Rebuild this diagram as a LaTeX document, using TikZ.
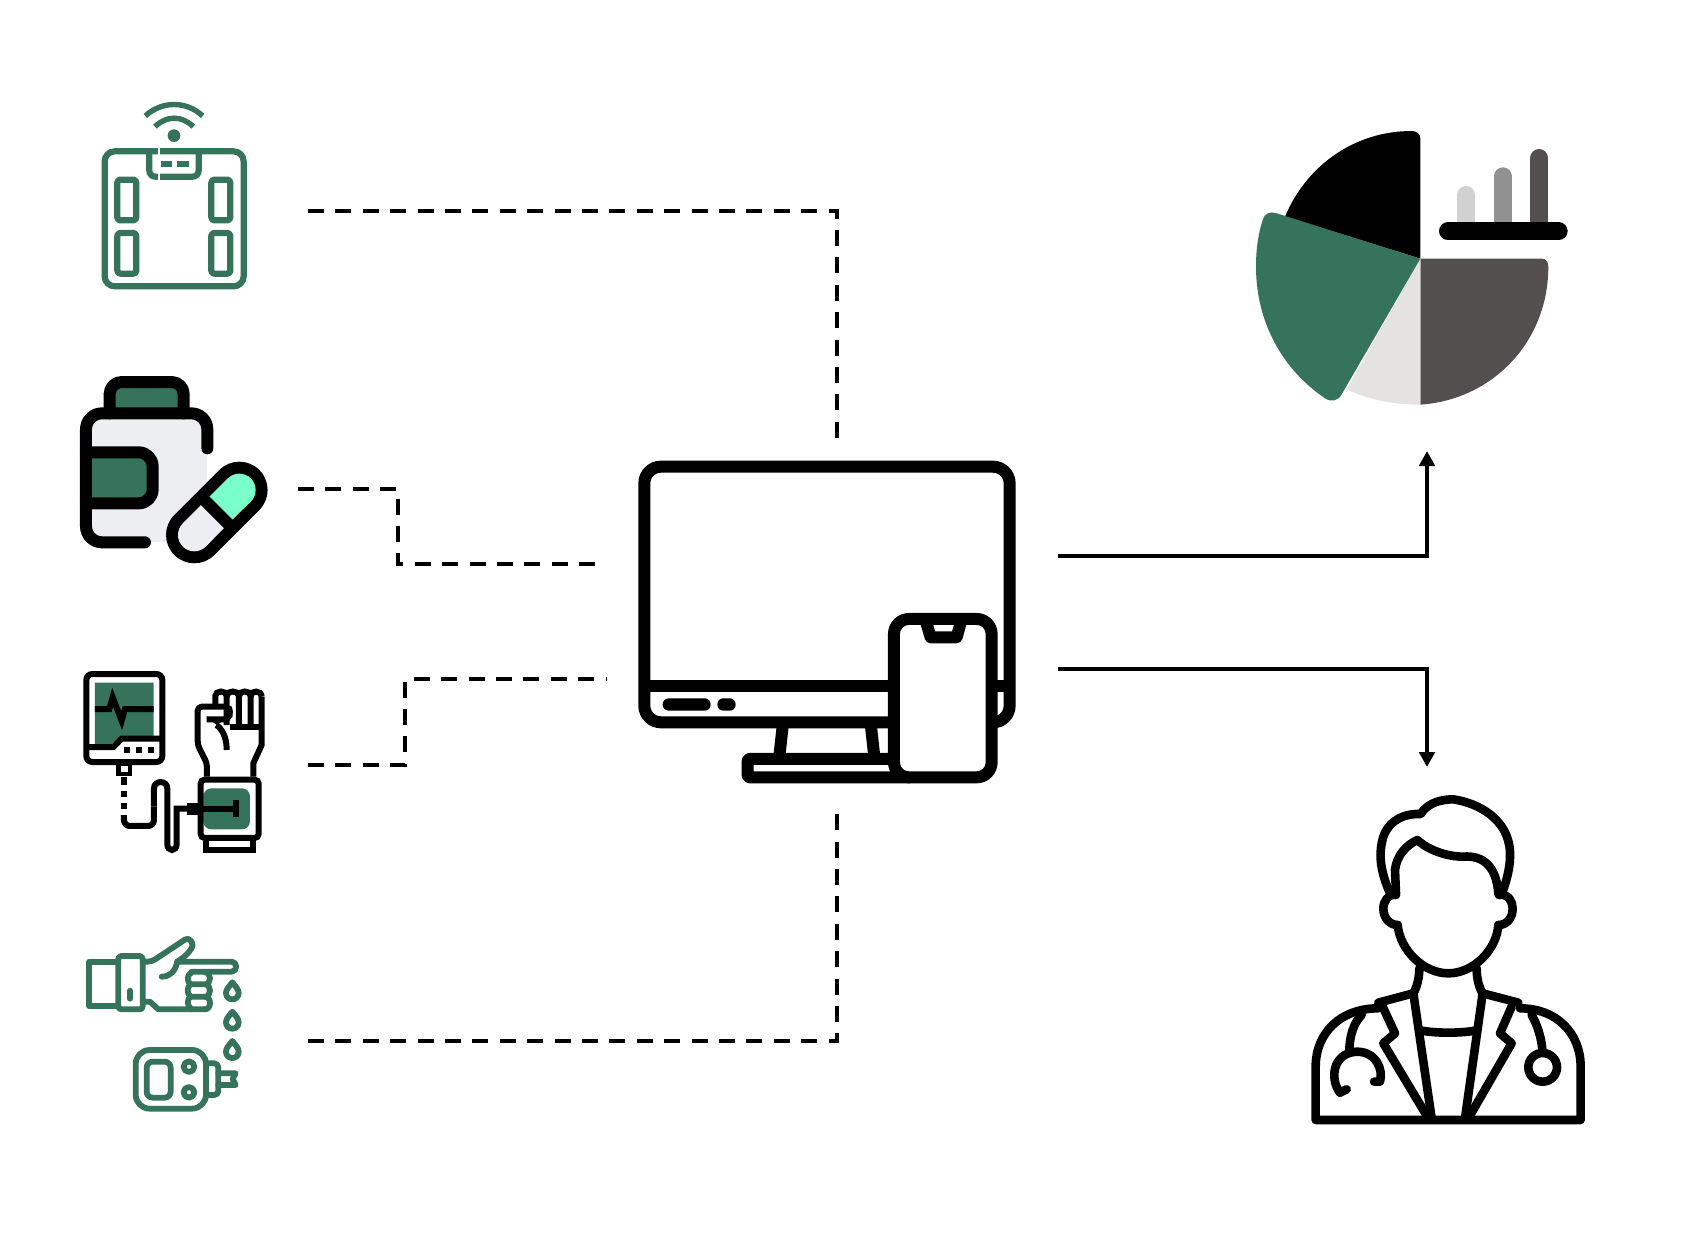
\documentclass[tikz,border=0pt]{standalone}
\usepackage{xcolor}
\usetikzlibrary{arrows.meta}
\definecolor{iconGreen}{HTML}{35735A}
\definecolor{pillGrey}{HTML}{ECEEF1}
\definecolor{pillMint}{HTML}{7AFFC9}
\definecolor{pieDark}{HTML}{524F4E}
\definecolor{pieLight}{HTML}{E4E3E2}
\tikzset{
  dataline/.style={line width=2pt,dash pattern=on 8pt off 5.7pt},
  outline/.style={line width=2pt,-{Triangle[length=7.5pt,width=7.7pt]}},
  greenthin/.style={draw=iconGreen,line width=3.1pt,line join=round},
  greenhand/.style={draw=iconGreen,line width=2.9pt,line join=round,line cap=round},
  pillline/.style={line width=6pt,line join=round,line cap=round},
  cuffline/.style={line width=3pt,line join=miter},
  pcline/.style={line width=6pt,line join=round},
  docline/.style={line width=4.3pt,line join=round,line cap=round},
}
\begin{document}
\begin{tikzpicture}[x=.5pt,y=-.5pt]
\useasboundingbox (0,0) rectangle (1690,1254);

% smart scale
\begin{scope}[shift={(60,80)},scale=.3333]
\draw[greenthin,rounded corners=5pt] (134,214) rectangle (551,619);
\draw[greenthin,rounded corners=3pt] (268,214) -- (268,290) -- (416,290) -- (416,214);
\draw[white,line width=1pt] (298,205) -- (298,300);
\fill[iconGreen] (302,243) rectangle (335,261);
\fill[iconGreen] (352,243) rectangle (388,261);
\foreach \xa in {172,454}
  \foreach \ya in {299,459}
    \draw[greenthin,rounded corners=1.5pt] (\xa,\ya) rectangle ++(57,122);
\fill[iconGreen] (342,167) circle (19);
\draw[greenthin,line width=2.7pt] (256,108) .. controls (305,62) and (380,62) .. (428,108);
\draw[greenthin,line width=2.7pt] (285,140) .. controls (320,106) and (365,106) .. (400,140);
\end{scope}

% pill bottle
\begin{scope}[shift={(60,360)},scale=.3333]
\fill[pillGrey] (85,170) rectangle (441,545);
\draw[pillline,fill=iconGreen,rounded corners=6pt] (149,160) -- (149,66) -- (371,66) -- (371,160);
\draw[pillline,fill=iconGreen,rounded corners=7pt] (78,277) -- (278,277) -- (278,430) -- (78,430);
\draw[pillline,rounded corners=8pt] (442,265) -- (442,160) -- (78,160) -- (78,547) -- (255,547);
\draw[line width=28.3pt,line cap=round] (403,525) -- (538,390);
\fill[pillGrey] (403,525) circle (49);
\draw[pillGrey,line width=16.3pt] (403,525) -- (470,457);
\fill[pillMint] (538,390) circle (49);
\draw[pillMint,line width=16.3pt] (538,390) -- (470,457);
\draw[line width=6pt] (433,420) -- (507,494);
\end{scope}

% blood pressure monitor
\begin{scope}[shift={(60,660)},scale=.3333]
\fill[iconGreen] (105,68) -- (281,68) -- (281,228) -- (185,228) -- (155,252) -- (105,252) -- cycle;
\draw[cuffline,rounded corners=3pt] (79,42) rectangle (307,306);
\draw[cuffline] (79,261) -- (160,261) -- (185,236) -- (307,236);
\foreach \xa in {192,228,263}
  \fill (\xa,262) rectangle ++(18,18);
\draw[cuffline] (105,147) -- (148,147) -- (158,112) -- (185,182) -- (195,147) -- (281,147);
\draw[line width=2.3pt] (175,312) rectangle (210,342);
\draw[cuffline] (192,350) -- (192,374);
\draw[cuffline] (192,394) -- (192,411);
\draw[cuffline] (192,430) -- (192,447);
\draw[cuffline,rounded corners=3pt] (192,465) -- (192,498) -- (282,498) -- (282,440);
\draw[cuffline] (282,440) -- (282,385) .. controls (282,360) and (322,360) .. (322,385) -- (322,552) .. controls (322,576) and (350,576) .. (350,552) -- (350,446) -- (388,446);
\draw[cuffline] (390,437) rectangle (420,456);
\fill[iconGreen,rounded corners=4pt] (430,385) -- (570,385) -- (570,508) -- (430,508) -- cycle;
\draw[cuffline,rounded corners=2pt] (422,359) rectangle (596,534);
\draw[cuffline] (420,446) -- (528,446);
\draw[cuffline] (528,420) -- (528,472);
\draw[cuffline] (438,543) -- (438,570) -- (578,570) -- (578,543);
\draw[cuffline,line join=round,rounded corners=2pt] (441,350) -- (441,310) -- (413,255) -- (413,140) -- (505,140);
\draw[cuffline,line join=round] (580,350) -- (580,310) -- (605,255) -- (605,110);
\draw[cuffline] (466,135) -- (466,108) .. controls (466,90) and (500,90) .. (500,108) -- (500,195);
\draw[cuffline] (500,108) .. controls (500,90) and (537,90) .. (537,108) -- (537,195);
\draw[cuffline] (537,108) .. controls (537,90) and (572,90) .. (572,108) -- (572,195);
\draw[cuffline] (572,108) .. controls (572,90) and (605,90) .. (605,110);
\draw[cuffline] (510,200) -- (605,200);
\draw[cuffline] (505,140) .. controls (515,160) and (510,178) .. (490,178) -- (440,178);
\fill (440,170) -- (500,175) -- (470,195) -- cycle;
\draw[cuffline] (470,195) .. controls (495,215) and (500,245) .. (500,270);
\end{scope}

% finger prick and glucose meter
\begin{scope}[shift={(70,920)},scale=.3333]
\draw[greenhand] (145,125) -- (57,125) -- (57,258) -- (145,258);
\draw[greenhand,rounded corners=1.5pt] (145,108) rectangle (218,268);
\draw[greenhand] (180,212) -- (180,236);
\draw[greenhand,rounded corners=2pt] (218,125) -- (245,125) -- (355,52) -- (372,75) -- (350,105) -- (322,125);
\draw[greenhand] (322,125) -- (485,125) .. controls (503,125) and (503,155) .. (485,155) -- (365,155);
\draw[greenhand] (322,125) .. controls (315,155) and (300,170) .. (275,170);
\draw[greenhand] (218,245) -- (240,245) -- (265,268) -- (405,268);
\draw[greenhand] (405,157) .. controls (425,157) and (425,193) .. (405,193) -- (362,193);
\draw[greenhand] (405,193) .. controls (425,193) and (425,230) .. (405,230) -- (362,230);
\draw[greenhand] (405,230) .. controls (425,230) and (425,268) .. (405,268);
\draw[greenhand] (365,157) .. controls (350,165) and (350,185) .. (362,193) .. controls (350,200) and (350,222) .. (362,230) .. controls (350,238) and (350,258) .. (365,268);
\foreach \ya in {187,275,363}
  \draw[greenhand] (487,\ya) .. controls (475,\ya+15) and (468,\ya+22) .. (468,\ya+32) .. controls (468,\ya+44) and (477,\ya+51) .. (487,\ya+51) .. controls (497,\ya+51) and (506,\ya+44) .. (506,\ya+32) .. controls (506,\ya+22) and (499,\ya+15) .. (487,\ya) -- cycle;
\draw[greenhand,rounded corners=7pt] (197,390) rectangle (408,566);
\draw[greenhand,rounded corners=3pt] (230,425) rectangle (302,533);
\draw[greenhand] (357,440) circle (16);
\draw[greenhand] (357,517) circle (16);
\draw[greenhand,rounded corners=2pt] (415,430) -- (445,430) -- (445,525) -- (415,525);
\draw[greenhand] (445,460) -- (497,460) -- (488,477) -- (497,495) -- (445,495);
\end{scope}

% computer and phone
\begin{scope}[shift={(620,440)},scale=.3333]
\draw[pcline,rounded corners=8.3pt] (73,80) rectangle (1169,847);
\draw[pcline] (73,737) -- (1169,737);
\fill[rounded corners=3pt] (128,775) rectangle (272,812);
\fill[rounded corners=3pt] (292,775) rectangle (347,812);
\draw[pcline] (489,850) -- (478,950);
\draw[pcline] (752,850) -- (763,950);
\draw[pcline,rounded corners=1pt] (830,957) -- (383,957) -- (383,1012) -- (870,1012);
\draw[pcline,fill=white,rounded corners=7.5pt] (822,537) rectangle (1115,1012);
\draw[pcline] (918,545) -- (932,592) -- (1010,592) -- (1023,545);
\end{scope}

% pie chart
\begin{scope}[shift={(1240,110)},scale=.3333]
\fill (541,446) -- (541,85) .. controls (541,72) and (530,63) .. (515,63) .. controls (345,63) and (200,165) .. (135,320) -- cycle;
\fill[pieDark] (541,446) -- (905,446) .. controls (918,446) and (925,456) .. (925,470) .. controls (925,700) and (753,870) .. (541,884) -- cycle;
\fill[pieLight] (541,446) -- (541,884) .. controls (460,884) and (390,870) .. (320,838) -- cycle;
\fill[iconGreen] (541,446) -- (110,310) .. controls (90,303) and (73,310) .. (68,330) .. controls (55,370) and (48,415) .. (48,470) .. controls (48,640) and (130,780) .. (255,865) .. controls (275,878) and (295,872) .. (305,853) -- cycle;
\draw[line width=9pt,line cap=round,color=black!18] (679,255) -- (679,340);
\draw[line width=9pt,line cap=round,color=black!43] (788,199) -- (788,340);
\draw[line width=9pt,line cap=round,color=pieDark] (898,144) -- (898,340);
\draw[line width=9pt,line cap=round] (624,364) -- (956,364);
\end{scope}

% doctor
\begin{scope}[shift={(1300,780)},scale=.3333]
\draw[docline] (268,335) .. controls (240,270) and (235,220) .. (250,170) .. controls (270,115) and (320,100) .. (362,102) .. controls (385,65) and (430,58) .. (460,58) .. controls (540,70) and (625,120) .. (630,215) .. controls (632,260) and (620,300) .. (608,335);
\draw[docline] (288,342) -- (285,270) .. controls (290,225) and (320,195) .. (352,180) .. controls (385,210) and (440,230) .. (490,230) .. controls (550,225) and (590,260) .. (595,342);
\draw[docline] (288,345) .. controls (265,340) and (250,365) .. (250,385) .. controls (250,415) and (270,435) .. (293,435);
\draw[docline] (597,345) .. controls (625,340) and (638,365) .. (638,385) .. controls (638,415) and (620,435) .. (595,435);
\draw[docline] (293,435) .. controls (300,510) and (370,580) .. (445,580) .. controls (520,580) and (590,510) .. (595,435);
\draw[docline] (358,565) .. controls (358,590) and (352,620) .. (340,640);
\draw[docline] (530,565) .. controls (530,590) and (535,620) .. (548,640);
\draw[docline] (235,668) -- (340,640) -- (395,1015);
\draw[docline] (655,668) -- (548,640) -- (495,1015);
\draw[docline] (248,680) -- (285,760) -- (250,790) -- (385,1015);
\draw[docline] (635,680) -- (600,760) -- (635,790) -- (505,1015);
\draw[docline] (365,752) .. controls (410,760) and (480,760) .. (525,752);
\draw[docline] (235,685) .. controls (120,685) and (47,760) .. (47,860) -- (47,1020) -- (842,1020) -- (842,860) .. controls (842,760) and (770,685) .. (660,685);
\draw[docline] (185,705) .. controls (160,730) and (148,770) .. (148,815);
\draw[docline] (120,938) -- (140,928);
\draw[docline] (120,938) .. controls (90,900) and (95,820) .. (170,815) .. controls (230,815) and (250,870) .. (240,905) -- (222,905);
\draw[docline] (695,705) .. controls (715,740) and (725,780) .. (727,810);
\draw[docline] (728,862) circle (43);
\end{scope}

% connectors
\coordinate (scaleout) at (308,211);
\coordinate (pillout) at (298,489);
\coordinate (cuffout) at (308,765);
\coordinate (sugarout) at (308,1041);
\coordinate (pcup) at (837,438);
\coordinate (pcdown) at (837,813);
\coordinate (pcleftup) at (595,564);
\coordinate (pcleftdown) at (606,679);
\coordinate (pillbend) at (398,489);
\coordinate (cuffbend) at (405,765);
\coordinate (pcright1) at (1058,556);
\coordinate (pcright2) at (1058,669);
\coordinate (chartin) at (1427,451);
\coordinate (docin) at (1427,767);

\draw[dataline] (scaleout) -| (pcup);
\draw[dataline] (pillout) -- (pillbend) |- (pcleftup);
\draw[dataline] (cuffout) -- (cuffbend) |- (pcleftdown);
\draw[dataline] (sugarout) -| (pcdown);
\draw[outline] (pcright1) -| (chartin);
\draw[outline] (pcright2) -| (docin);
\end{tikzpicture}
\end{document}
